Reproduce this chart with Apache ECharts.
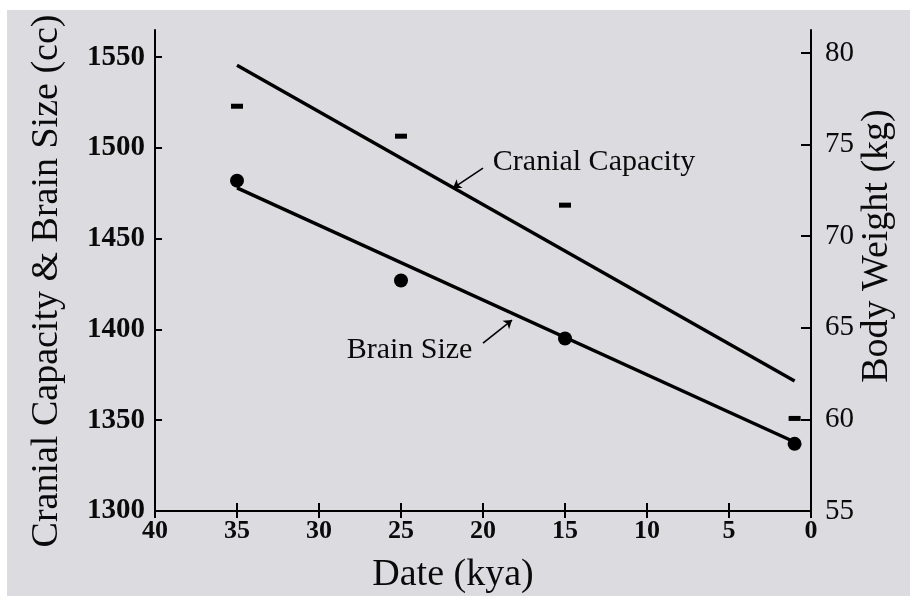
<!DOCTYPE html>
<html><head><meta charset="utf-8">
<script src="https://cdn.jsdelivr.net/npm/echarts@6/dist/echarts.min.js"></script>
<style>
html,body{margin:0;padding:0;background:#fff;}
#bg{position:absolute;left:7px;top:10px;width:903px;height:586px;background:#dcdce0;}
#chart{position:absolute;left:0;top:0;width:910px;height:596px;}
</style>
</head><body><div id="bg"></div><div id="chart"></div>
<script>
// ---- data ----
const dateTicks = [40, 35, 30, 25, 20, 15, 10, 5, 0];
const leftTicks = [1300, 1350, 1400, 1450, 1500, 1550];
const rightTicks = [55, 60, 65, 70, 75, 80];
const sampleDates = [35, 25, 15, 1];
const cranialCapacity = [1523, 1506.5, 1468.5, 1351];
const brainSize = [1482, 1427, 1395, 1337];
const fitDates = [35, 1];
const cranialFit = [1545.6, 1371.6];
const brainFit = [1478, 1338];
const seriesNames = ['Cranial Capacity', 'Brain Size'];

const FONT = '"Liberation Serif", "Times New Roman", serif';
const INK = '#0a0a0a';

const chart = echarts.init(document.getElementById('chart'), null, {renderer: 'canvas'});

const axisLineStyle = {color: '#000', width: 2};
const plain = v => String(v);

const option = {
  backgroundColor: 'transparent',
  animation: false,
  textStyle: {fontFamily: FONT, color: INK},
  grid: {left: 155, right: 99, top: 30, bottom: 85, containLabel: false},
  xAxis: [
    {
      type: 'value', inverse: true, min: 0, max: 40, interval: 5, position: 'bottom',
      axisLine: {show: true, onZero: false, lineStyle: axisLineStyle},
      axisTick: {show: true, inside: true, length: 8, lineStyle: {color: '#000', width: 2}},
      axisLabel: {show: true, margin: 7, fontSize: 26, fontWeight: 'bold', fontFamily: FONT, color: INK,
        customValues: dateTicks, formatter: plain},
      splitLine: {show: false}
    },
    {
      type: 'value', inverse: true, min: 0, max: 40, interval: 5, position: 'bottom', offset: 0,
      axisLine: {show: false},
      axisTick: {show: true, inside: false, length: 7, lineStyle: {color: '#000', width: 2}},
      axisLabel: {show: false},
      splitLine: {show: false}
    }
  ],
  yAxis: [
    {
      type: 'value', position: 'left', min: 1300, max: 1565, interval: 50,
      axisLine: {show: true, onZero: false, lineStyle: axisLineStyle},
      axisTick: {show: true, inside: true, length: 7, lineStyle: {color: '#000', width: 2}, customValues: leftTicks},
      axisLabel: {show: true, margin: 10, fontSize: 29, fontWeight: 'bold', fontFamily: FONT, color: INK,
        customValues: leftTicks, formatter: plain},
      splitLine: {show: false}
    },
    {
      type: 'value', position: 'right', min: 55, max: 81.25, interval: 5,
      axisLine: {show: true, onZero: false, lineStyle: axisLineStyle},
      axisTick: {show: true, inside: true, length: 10, lineStyle: {color: '#000', width: 2}, customValues: rightTicks},
      axisLabel: {show: true, margin: 14, fontSize: 29, fontFamily: FONT, color: INK,
        customValues: rightTicks, formatter: plain},
      splitLine: {show: false}
    }
  ],
  graphic: [
    {type: 'text', x: 47, y: 281, rotation: Math.PI / 2, silent: true,
      style: {text: 'Cranial Capacity & Brain Size (cc)', font: '38px ' + FONT, fill: INK,
        align: 'center', verticalAlign: 'middle', textAlign: 'center', textVerticalAlign: 'middle'}},
    {type: 'text', x: 877, y: 246, rotation: Math.PI / 2, silent: true,
      style: {text: 'Body Weight (kg)', font: '38px ' + FONT, fill: INK,
        align: 'center', verticalAlign: 'middle', textAlign: 'center', textVerticalAlign: 'middle'}},
    {type: 'text', x: 453, y: 575, silent: true,
      style: {text: 'Date (kya)', font: '38px ' + FONT, fill: INK,
        align: 'center', verticalAlign: 'middle', textAlign: 'center', textVerticalAlign: 'middle'}}
  ],
  series: [
    {
      name: seriesNames[0] + ' fit', type: 'line', xAxisIndex: 0, yAxisIndex: 0,
      data: fitDates.map((d, i) => [d, cranialFit[i]]),
      symbol: 'none', lineStyle: {color: '#000', width: 3.4, opacity: 1}, silent: true, z: 3,
      markLine: {
        silent: true, symbol: ['none', 'arrow'], symbolSize: 8,
        lineStyle: {color: '#000', width: 1.6, type: 'solid', opacity: 1}, label: {show: false},
        data: [[{coord: [20.0, 1488.9]}, {coord: [21.83, 1477.9]}]]
      }
    },
    {
      name: seriesNames[1] + ' fit', type: 'line', xAxisIndex: 0, yAxisIndex: 0,
      data: fitDates.map((d, i) => [d, brainFit[i]]),
      symbol: 'none', lineStyle: {color: '#000', width: 3.4, opacity: 1}, silent: true, z: 3,
      markLine: {
        silent: true, symbol: ['none', 'arrow'], symbolSize: 8,
        lineStyle: {color: '#000', width: 1.6, type: 'solid', opacity: 1}, label: {show: false},
        data: [[{coord: [20.0, 1392.5]}, {coord: [18.23, 1405.2]}]]
      }
    },
    {
      name: seriesNames[0], type: 'scatter', xAxisIndex: 0, yAxisIndex: 0,
      data: sampleDates.map((d, i) => [d, cranialCapacity[i]]),
      symbol: 'rect', symbolSize: [12, 5], itemStyle: {color: '#000', opacity: 1}, silent: true, z: 4
    },
    {
      name: seriesNames[1], type: 'scatter', xAxisIndex: 0, yAxisIndex: 0,
      data: sampleDates.map((d, i) => [d, brainSize[i]]),
      symbol: 'circle', symbolSize: 14, itemStyle: {color: '#000', opacity: 1}, silent: true, z: 4
    },
    {
      name: 'labels', type: 'scatter', xAxisIndex: 0, yAxisIndex: 0,
      data: [
        {name: seriesNames[0], value: [13.23, 1492.2]},
        {name: seriesNames[1], value: [24.48, 1388.6]}
      ],
      symbolSize: 0, silent: true, z: 5, itemStyle: {opacity: 1},
      label: {show: true, position: 'inside', formatter: '{b}', fontSize: 30, fontFamily: FONT, color: INK, opacity: 1}
    }
  ]
};
chart.setOption(option);
</script>
</body></html>
